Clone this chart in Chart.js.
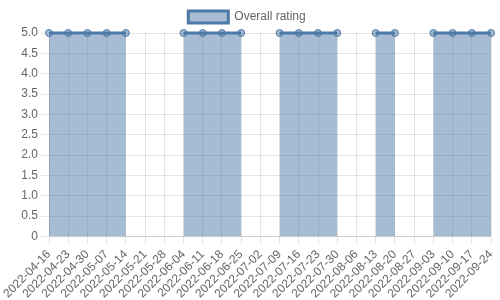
<!DOCTYPE html>
<html>
<head>
<meta charset="utf-8">
<script src="https://cdn.jsdelivr.net/npm/chart.js@4"></script>
<style>
    html, body { margin: 0; padding: 0; background: #fff; }
    #wrap { width: 500px; height: 300px; }
</style>
</head>
<body>
<div id="wrap"><canvas id="chartRating"></canvas></div>
<script>
const weeks = [
    "2022-04-16", "2022-04-23", "2022-04-30", "2022-05-07", "2022-05-14",
    "2022-05-21", "2022-05-28", "2022-06-04", "2022-06-11", "2022-06-18",
    "2022-06-25", "2022-07-02", "2022-07-09", "2022-07-16", "2022-07-23",
    "2022-07-30", "2022-08-06", "2022-08-13", "2022-08-20", "2022-08-27",
    "2022-09-03", "2022-09-10", "2022-09-17", "2022-09-24"
];
const ratings = [
    5, 5, 5, 5, 5,
    null, null, 5, 5, 5,
    5, null, 5, 5, 5,
    5, null, 5, 5, null,
    5, 5, 5, 5
];
const yTicks = [0, 0.5, 1, 1.5, 2, 2.5, 3, 3.5, 4, 4.5, 5];

Chart.defaults.font.family = "'Liberation Sans', Arial, sans-serif";
Chart.defaults.font.size = 12;
Chart.defaults.color = "#666";

new Chart(document.getElementById("chartRating"), {
    type: "line",
    data: {
        labels: weeks,
        datasets: [{
            label: "Overall rating",
            data: ratings,
            borderColor: "#4e79a7",
            backgroundColor: "rgba(78, 121, 167, 0.5)",
            borderWidth: 3,
            pointRadius: 3.5,
            pointBorderWidth: 1,
            pointBackgroundColor: "rgba(78, 121, 167, 0.5)",
            fill: "origin",
            spanGaps: false,
            tension: 0,
            clip: 6
        }]
    },
    options: {
        responsive: true,
        maintainAspectRatio: false,
        animation: false,
        layout: { padding: { left: 3, right: 9, top: 1, bottom: -4 } },
        plugins: {
            legend: {
                labels: { boxWidth: 40, color: "#666" }
            },
            tooltip: { enabled: false }
        },
        scales: {
            x: {
                ticks: { maxRotation: 45, minRotation: 45, autoSkip: false },
                afterFit: (axis) => { axis.paddingRight = 0; },
                grid: { color: "rgba(0,0,0,0.1)" }
            },
            y: {
                min: 0,
                max: 5,
                afterBuildTicks: (axis) => { axis.ticks = yTicks.map(v => ({ value: v })); },
                afterFit: (axis) => { axis.width = 46; },
                ticks: { callback: (v) => v === 0 ? "0" : v.toFixed(1) },
                grid: { color: "rgba(0,0,0,0.1)" }
            }
        }
    }
});
</script>
</body>
</html>
